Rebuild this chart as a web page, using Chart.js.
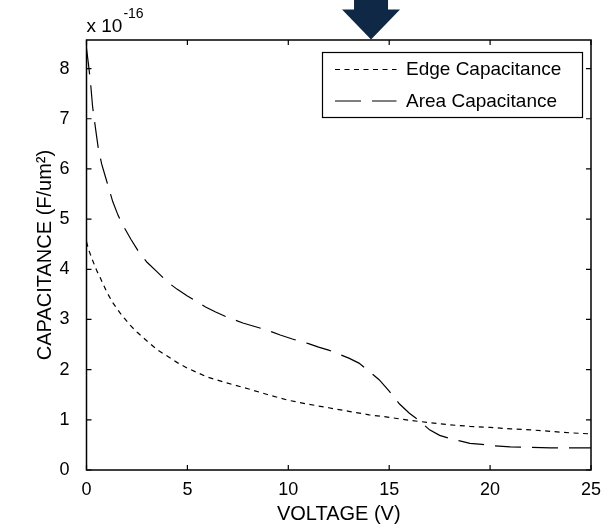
<!DOCTYPE html>
<html>
<head>
<meta charset="utf-8">
<script src="https://cdn.jsdelivr.net/npm/chart.js@4.4.0/dist/chart.umd.min.js"></script>
<style>
  html, body { margin: 0; padding: 0; background: #fff; }
  #wrap { width: 615px; height: 526px; }
</style>
</head>
<body>
<div id="wrap"><canvas id="capChart" width="615" height="526"></canvas></div>
<script>
// values (capacitance in units of 1e-16 F/um^2)
const voltageEdge = [0, 0.1, 0.26, 0.5, 0.67, 1, 1.31, 1.66, 2.15, 2.5, 3, 3.5, 4, 4.5, 5, 6, 7, 8, 9, 10, 11, 12, 13, 14, 15, 16, 17, 18, 19, 20, 21, 22, 23, 24, 25];
const edgeCap = [4.55, 4.4, 4.22, 3.98, 3.84, 3.55, 3.33, 3.13, 2.89, 2.75, 2.57, 2.4, 2.27, 2.14, 2.03, 1.85, 1.73, 1.62, 1.5, 1.39, 1.31, 1.24, 1.17, 1.1, 1.05, 0.99, 0.945, 0.9, 0.87, 0.85, 0.82, 0.8, 0.77, 0.74, 0.72];

const voltageArea = [0, 0.1, 0.2, 0.3, 0.45, 0.57, 0.75, 0.97, 1.1, 1.3, 1.56, 1.8, 2.2, 2.6, 3, 3.5, 4, 4.5, 5, 5.9, 6.4, 7, 7.75, 8.25, 9, 9.6, 10.2, 11, 11.5, 12, 12.5, 13, 13.5, 14, 14.5, 15, 15.5, 16, 16.5, 17, 17.5, 18, 18.5, 19, 19.6, 20, 21, 22, 23, 24, 25];
const areaCap = [8.4, 8.08, 7.72, 7.25, 6.8, 6.45, 6.1, 5.8, 5.62, 5.35, 5.08, 4.88, 4.6, 4.34, 4.14, 3.95, 3.75, 3.6, 3.47, 3.25, 3.15, 3.04, 2.93, 2.87, 2.78, 2.69, 2.61, 2.52, 2.45, 2.39, 2.31, 2.23, 2.13, 1.97, 1.8, 1.57, 1.32, 1.13, 0.98, 0.8, 0.69, 0.63, 0.58, 0.53, 0.51, 0.49, 0.46, 0.45, 0.44, 0.44, 0.44];

const seriesNames = ['Edge Capacitance', 'Area Capacitance'];
const xTickValues = [0, 5, 10, 15, 20, 25];
const yTickValues = [0, 1, 2, 3, 4, 5, 6, 7, 8];
const exponentText = '-16';

const FONT = "'Liberation Sans', Arial, sans-serif";
Chart.defaults.font.family = FONT;
Chart.defaults.color = '#000';

const edgeDash = [5, 4.5];
const areaDash = [26, 11];
const arrowAt = 14.1; // where the marker arrow points, in volts

// box, inward ticks, exponent, legend, arrow
const matlabFrame = {
  id: 'matlabFrame',
  afterDraw(chart) {
    const { ctx, chartArea: a, scales: { x, y } } = chart;
    ctx.save();
    ctx.strokeStyle = '#000';
    ctx.lineWidth = 1.5;
    ctx.setLineDash([]);
    ctx.strokeRect(a.left, a.top, a.right - a.left, a.bottom - a.top);

    const tl = 5;
    ctx.lineWidth = 1.2;
    ctx.beginPath();
    x.ticks.forEach(t => {
      const px = x.getPixelForValue(t.value);
      ctx.moveTo(px, a.bottom); ctx.lineTo(px, a.bottom - tl);
      ctx.moveTo(px, a.top); ctx.lineTo(px, a.top + tl);
    });
    y.ticks.forEach(t => {
      const py = y.getPixelForValue(t.value);
      ctx.moveTo(a.left, py); ctx.lineTo(a.left + tl, py);
      ctx.moveTo(a.right, py); ctx.lineTo(a.right - tl, py);
    });
    ctx.stroke();

    // x 10^-16
    ctx.fillStyle = '#000';
    ctx.textBaseline = 'alphabetic';
    ctx.textAlign = 'left';
    ctx.font = '19px ' + FONT;
    ctx.fillText('x 10', a.left, a.top - 8);
    const w = ctx.measureText('x 10').width;
    ctx.font = '14px ' + FONT;
    ctx.fillText(exponentText, a.left + w + 1, a.top - 22);

    // legend
    const lw = 260, lh = 65;
    const lx = a.right - 268.5, ly = a.top + 12.5;
    ctx.fillStyle = '#fff';
    ctx.fillRect(lx, ly, lw, lh);
    ctx.lineWidth = 1.2;
    ctx.strokeRect(lx, ly, lw, lh);
    const rows = [ly + 17, ly + 48.5];
    chart.data.datasets.forEach((ds, i) => {
      ctx.beginPath();
      ctx.setLineDash(ds.borderDash);
      ctx.lineWidth = ds.borderWidth;
      ctx.moveTo(lx + 12.5, rows[i]);
      ctx.lineTo(lx + 74, rows[i]);
      ctx.stroke();
      ctx.setLineDash([]);
      ctx.fillStyle = '#000';
      ctx.font = '19px ' + FONT;
      ctx.textBaseline = 'middle';
      ctx.fillText(ds.label, lx + 83.5, rows[i] + 0.5);
    });

    // arrow above the axes
    const ax = x.getPixelForValue(arrowAt);
    ctx.fillStyle = '#0f2846';
    ctx.beginPath();
    ctx.moveTo(ax - 17, 0);
    ctx.lineTo(ax + 17, 0);
    ctx.lineTo(ax + 17, 9.5);
    ctx.lineTo(ax + 29, 9.5);
    ctx.lineTo(ax, a.top - 0.5);
    ctx.lineTo(ax - 29, 9.5);
    ctx.lineTo(ax - 17, 9.5);
    ctx.closePath();
    ctx.fill();
    ctx.restore();
  }
};

new Chart(document.getElementById('capChart'), {
  type: 'line',
  data: {
    datasets: [
      {
        label: seriesNames[0],
        data: voltageEdge.map((v, i) => ({ x: v, y: edgeCap[i] })),
        borderColor: '#000',
        borderWidth: 1.2,
        borderDash: edgeDash,
        pointRadius: 0,
        tension: 0,
        fill: false
      },
      {
        label: seriesNames[1],
        data: voltageArea.map((v, i) => ({ x: v, y: areaCap[i] })),
        borderColor: '#000',
        borderWidth: 1.2,
        borderDash: areaDash,
        pointRadius: 0,
        tension: 0,
        fill: false
      }
    ]
  },
  options: {
    responsive: false,
    animation: false,
    devicePixelRatio: 1,
    layout: { padding: { top: 40, right: 24, left: 0, bottom: 0 } },
    plugins: { legend: { display: false }, tooltip: { enabled: false } },
    scales: {
      x: {
        type: 'linear',
        min: 0,
        max: 25,
        grid: { display: false },
        border: { display: false },
        afterBuildTicks: s => { s.ticks = xTickValues.map(v => ({ value: v })); },
        afterFit: s => { s.height = 56; },
        ticks: { font: { size: 18 }, padding: 1, color: '#000', maxRotation: 0 },
        title: { display: true, text: 'VOLTAGE (V)', font: { size: 20 }, color: '#000', padding: { top: -1, bottom: 0 } }
      },
      y: {
        type: 'linear',
        min: 0,
        max: 8.57,
        grid: { display: false },
        border: { display: false },
        afterBuildTicks: s => { s.ticks = yTickValues.map(v => ({ value: v })); },
        afterFit: s => { s.width = 86.5; },
        ticks: { font: { size: 18 }, padding: 9, color: '#000' },
        title: { display: true, text: 'CAPACITANCE (F/um²)', font: { size: 20 }, color: '#000', padding: { top: 33, bottom: 0 } }
      }
    }
  },
  plugins: [matlabFrame]
});
</script>
</body>
</html>
